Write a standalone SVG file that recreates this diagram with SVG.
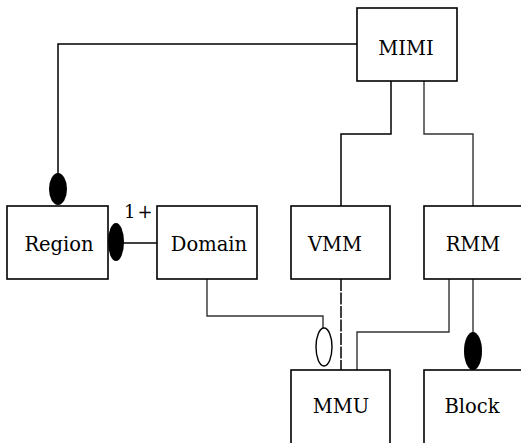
<svg xmlns="http://www.w3.org/2000/svg" width="521" height="443" viewBox="0 0 521 443">
<style>
.box{fill:#fff;stroke:#000;stroke-width:1.6}
.ln{fill:none;stroke:#000;stroke-width:1.5}
.lg{fill:none;stroke:#333;stroke-width:1.4}
.t{font-family:"DejaVu Serif","Liberation Serif",serif;font-size:19.5px;text-anchor:middle;fill:#000}
.s{font-family:"DejaVu Serif","Liberation Serif",serif;font-size:18px;fill:#000;letter-spacing:2px}
</style>
<rect width="521" height="443" fill="#fff"/>
<g id="connectors">
<path class="ln" d="M357,44 H58 V180"/>
<ellipse cx="58" cy="189" rx="9" ry="16" fill="#000"/>
<path class="ln" d="M123,243 H157"/>
<ellipse cx="116" cy="242" rx="8" ry="19" fill="#000"/>
<text class="s" x="124" y="218">1+</text>
<path class="ln" d="M391,81 V134 H341 V206"/>
<path class="lg" d="M424,81 V134 H473 V206"/>
<path class="lg" d="M207,279 V316 H323 V328"/>
<ellipse cx="324" cy="347" rx="8" ry="19" fill="#fff" stroke="#000" stroke-width="1.4"/>
<path class="ln" d="M341,279 V370" stroke-dasharray="12,1.5"/>
<path class="lg" d="M449,279 V332 H357 V370"/>
<path class="lg" d="M473,279 V334"/>
<ellipse cx="473" cy="351" rx="9" ry="19" fill="#000"/>
</g>
<g id="MIMI"><rect class="box" x="357" y="8" width="100" height="73"/><text class="t" x="406" y="55">MIMI</text></g>
<g id="Region"><rect class="box" x="7" y="206" width="101" height="73"/><text class="t" x="59" y="251">Region</text></g>
<g id="Domain"><rect class="box" x="157" y="206" width="100" height="73"/><text class="t" x="209" y="251">Domain</text></g>
<g id="VMM"><rect class="box" x="291" y="206" width="99" height="73"/><text class="t" x="335" y="251">VMM</text></g>
<g id="RMM"><rect class="box" x="424" y="206" width="100" height="73"/><text class="t" x="473" y="251">RMM</text></g>
<g id="MMU"><rect class="box" x="291" y="370" width="99" height="76"/><text class="t" x="341" y="413">MMU</text></g>
<g id="Block"><rect class="box" x="424" y="370" width="100" height="76"/><text class="t" x="472" y="413">Block</text></g>
</svg>
